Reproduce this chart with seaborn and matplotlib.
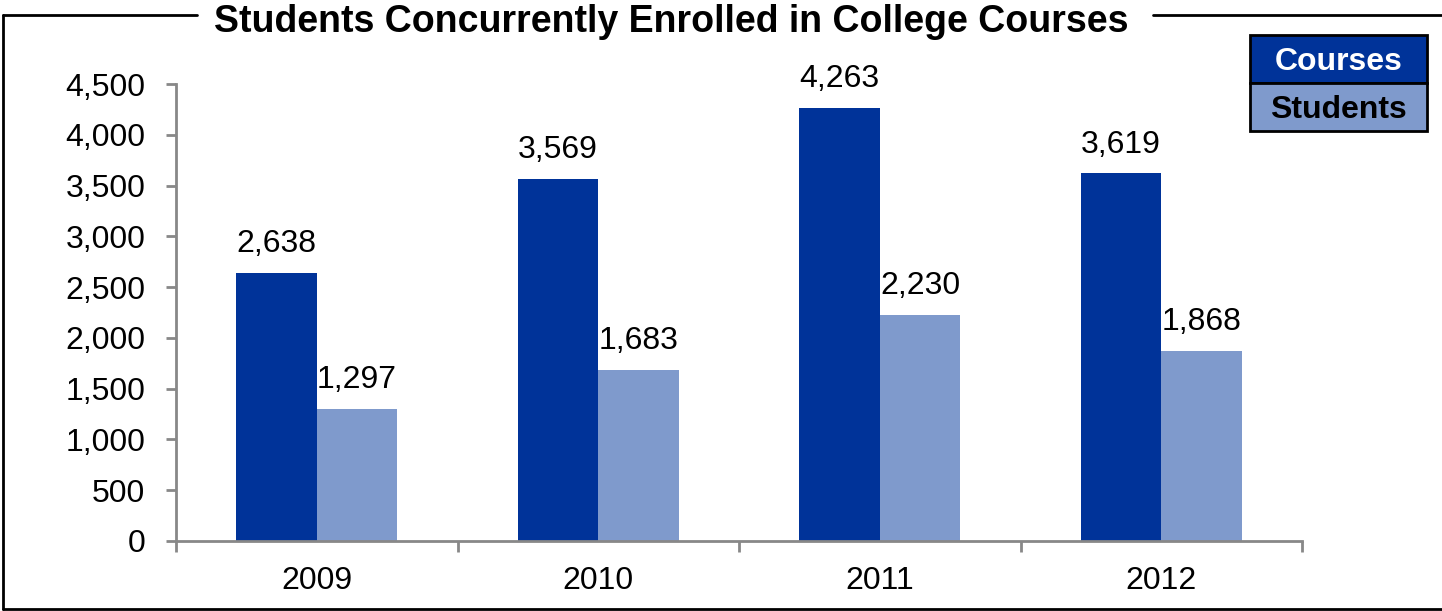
import matplotlib
matplotlib.use("Agg")
import matplotlib.pyplot as plt
import seaborn as sns
import pandas as pd
from matplotlib.patches import Rectangle
from matplotlib.lines import Line2D
from matplotlib.ticker import FuncFormatter, FixedLocator

years = ["2009", "2010", "2011", "2012"]
courses = [2638, 3569, 4263, 3619]
students = [1297, 1683, 2230, 1868]
series = ["Courses", "Students"]
colors = ["#003399", "#7F9ACC"]

df = pd.DataFrame({
    "year": years * 2,
    "value": courses + students,
    "series": [series[0]] * 4 + [series[1]] * 4,
})

sns.set_style("white")
plt.rcParams["font.family"] = ["Liberation Sans", "DejaVu Sans"]
plt.rcParams["text.color"] = "black"
plt.rcParams["xtick.color"] = "black"
plt.rcParams["ytick.color"] = "black"

W, H = 1442, 611
fig = plt.figure(figsize=(W / 100, H / 100), dpi=100)
ax = fig.add_axes([176 / W, 1 - 541 / H, (1302 - 176) / W, (541 - 84) / H])

sns.barplot(data=df, x="year", y="value", hue="series", palette=colors,
            width=0.572, saturation=1, ax=ax, legend=False, linewidth=0)

ax.set_xlim(-0.5, 3.5)
ax.set_ylim(0, 4500)
ax.set_yticks(range(0, 4501, 500))
ax.yaxis.set_major_formatter(FuncFormatter(lambda v, p: f"{int(v):,}"))
ax.set_xlabel("")
ax.set_ylabel("")

for c in ax.containers:
    ax.bar_label(c, labels=[f"{v:,.0f}" for v in c.datavalues], padding=10,
                 fontsize=23, color="black")

for s in ["top", "right"]:
    ax.spines[s].set_visible(False)
for s in ["left", "bottom"]:
    ax.spines[s].set_color("#888888")
    ax.spines[s].set_linewidth(2)

ax.tick_params(axis="y", which="major", direction="out", length=7, width=2,
               color="#888888", labelcolor="black", labelsize=23, pad=15, left=True)
ax.tick_params(axis="x", which="major", length=0, labelsize=23, labelcolor="black", pad=18)
ax.xaxis.set_minor_locator(FixedLocator([-0.5, 0.5, 1.5, 2.5, 3.5]))
ax.tick_params(axis="x", which="minor", direction="out", length=8, width=2,
               color="#888888", bottom=True)

# outer frame broken by title
def fl(x0, y0, x1, y1):
    fig.add_artist(Line2D([x0 / W, x1 / W], [1 - y0 / H, 1 - y1 / H],
                          color="black", lw=2))

fl(3, 15, 197, 15)
fl(1153, 15, W, 15)
fl(3, 15, 3, 609)
fl(3, 609, W, 609)

fig.text(671 / W, 1 - 22 / H, "Students Concurrently Enrolled in College Courses",
         ha="center", va="center", fontsize=27, fontweight="bold")

# legend boxes
lx0, lx1 = 1250, 1427
rows = [(35, 83), (83, 131)]
txt_colors = ["white", "black"]
for (y0, y1), name, col, tc in zip(rows, series, colors, txt_colors):
    fig.add_artist(Rectangle((lx0 / W, 1 - y1 / H), (lx1 - lx0) / W, (y1 - y0) / H,
                             facecolor=col, edgecolor="black", lw=2,
                             transform=fig.transFigure))
    fig.text((lx0 + lx1) / 2 / W, 1 - ((y0 + y1) / 2 + 3) / H, name, ha="center",
             va="center", fontsize=23, fontweight="bold", color=tc)

fig.savefig("out.png", dpi=100)
